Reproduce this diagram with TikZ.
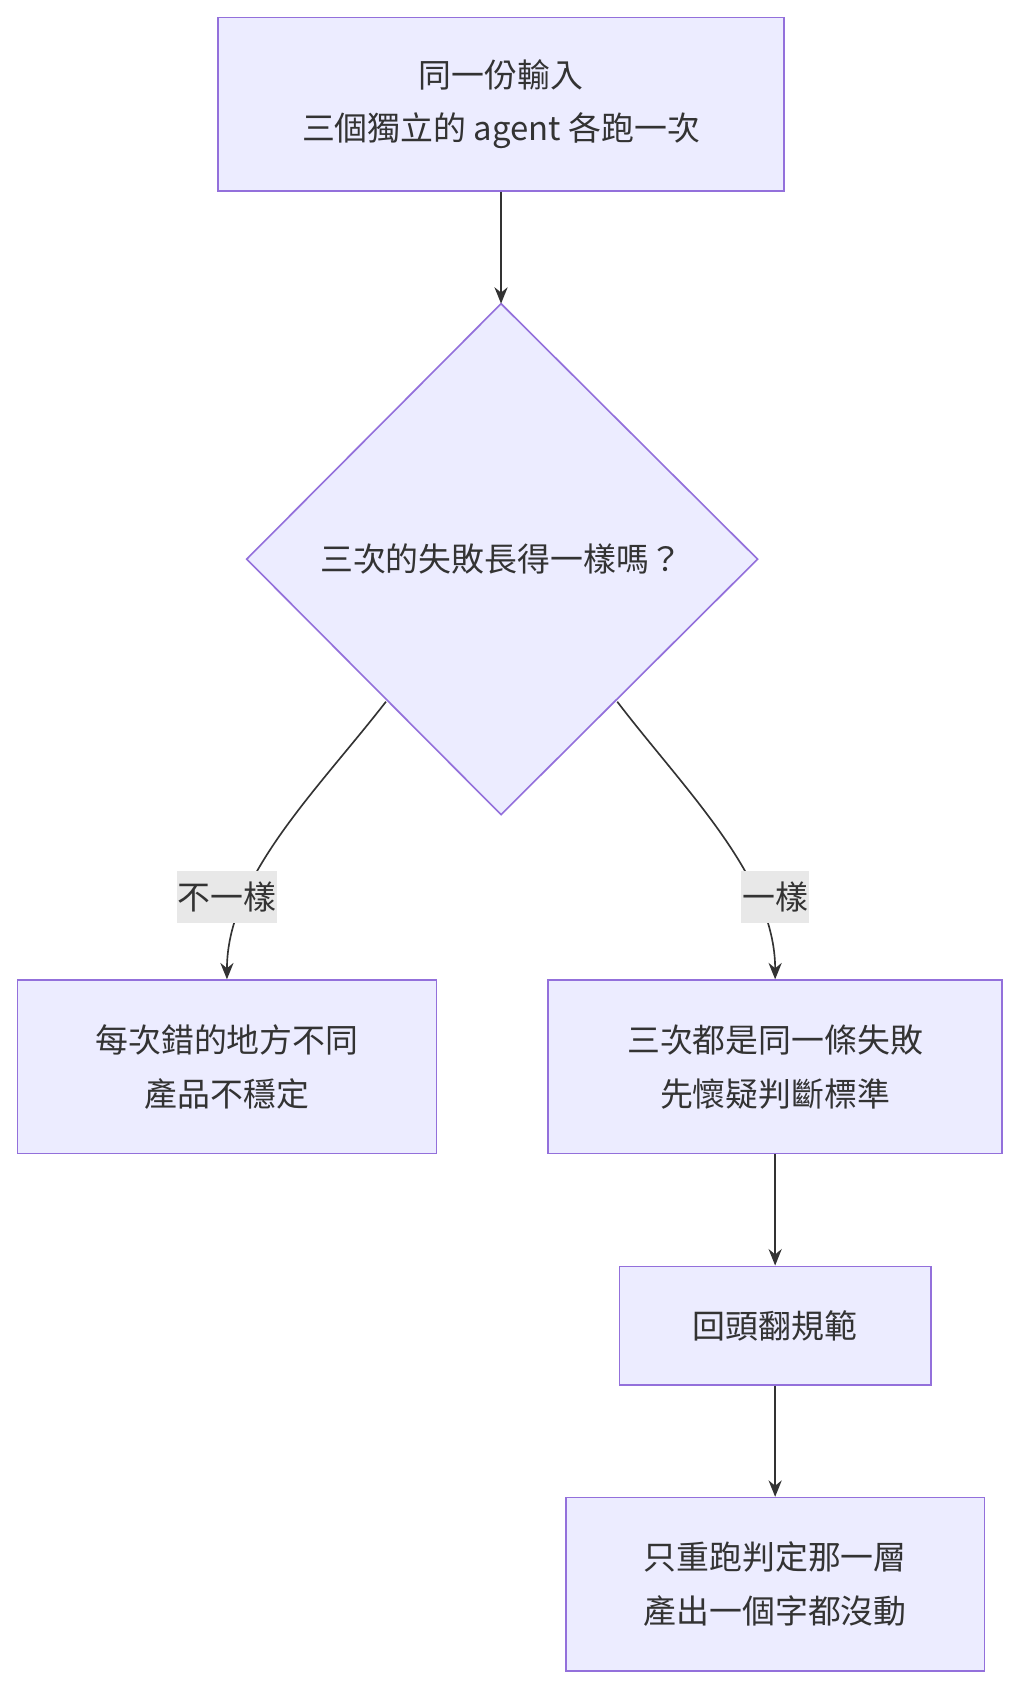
\documentclass[tikz,border=0pt]{standalone}
\usepackage{fontspec}
\setmainfont{Noto Sans CJK TC}
\usetikzlibrary{arrows.meta}
\definecolor{nfill}{HTML}{ECECFF}
\definecolor{nline}{HTML}{9370DB}
\definecolor{eline}{HTML}{333333}
\definecolor{lbg}{HTML}{E8E8E8}
\begin{document}
\begin{tikzpicture}[x=1pt,y=-1pt,
  box/.style={draw=nline,fill=nfill,line width=1.5pt,inner sep=0pt,align=center,font=\fontsize{30}{49}\selectfont,text=eline},
  lab/.style={fill=lbg,inner sep=1pt,font=\fontsize{30}{36}\selectfont,text=eline,minimum height=48pt},
  edge/.style={draw=eline,line width=1.5pt,-{Stealth[length=15pt,width=12pt]}}]
\useasboundingbox (0,0) rectangle (934,1546);
\node[box,minimum width=516pt,minimum height=158pt] (a) at (457,95) {同一份輸入\\三個獨立的 agent 各跑一次};
\draw[nline,fill=nfill,line width=1.5pt] (457,277) -- (691,510) -- (457,743) -- (225,510) -- cycle;
\node[font=\fontsize{30}{36}\selectfont,text=eline] (d) at (457,510) {三次的失敗長得一樣嗎？};
\coordinate (dl) at (352,640);
\coordinate (dr) at (563,640);
\node[box,minimum width=382pt,minimum height=158pt] (l) at (207,973) {每次錯的地方不同\\產品不穩定};
\node[box,minimum width=414pt,minimum height=158pt] (r) at (707,973) {三次都是同一條失敗\\先懷疑判斷標準};
\node[box,minimum width=284pt,minimum height=108pt] (b) at (707,1209) {回頭翻規範};
\node[box,minimum width=382pt,minimum height=158pt] (e) at (707,1445) {只重跑判定那一層\\產出一個字都沒動};
\draw[edge] (a) -- (457,277);
\draw[edge] (dl) .. controls (290,720) and (207,800) .. (l.north);
\draw[edge] (dr) .. controls (624,720) and (707,800) .. (r.north);
\node[lab] at (207,818) {不一樣};
\node[lab] at (707,818) {一樣};
\draw[edge] (r) -- (b);
\draw[edge] (b) -- (e);
\end{tikzpicture}
\end{document}
